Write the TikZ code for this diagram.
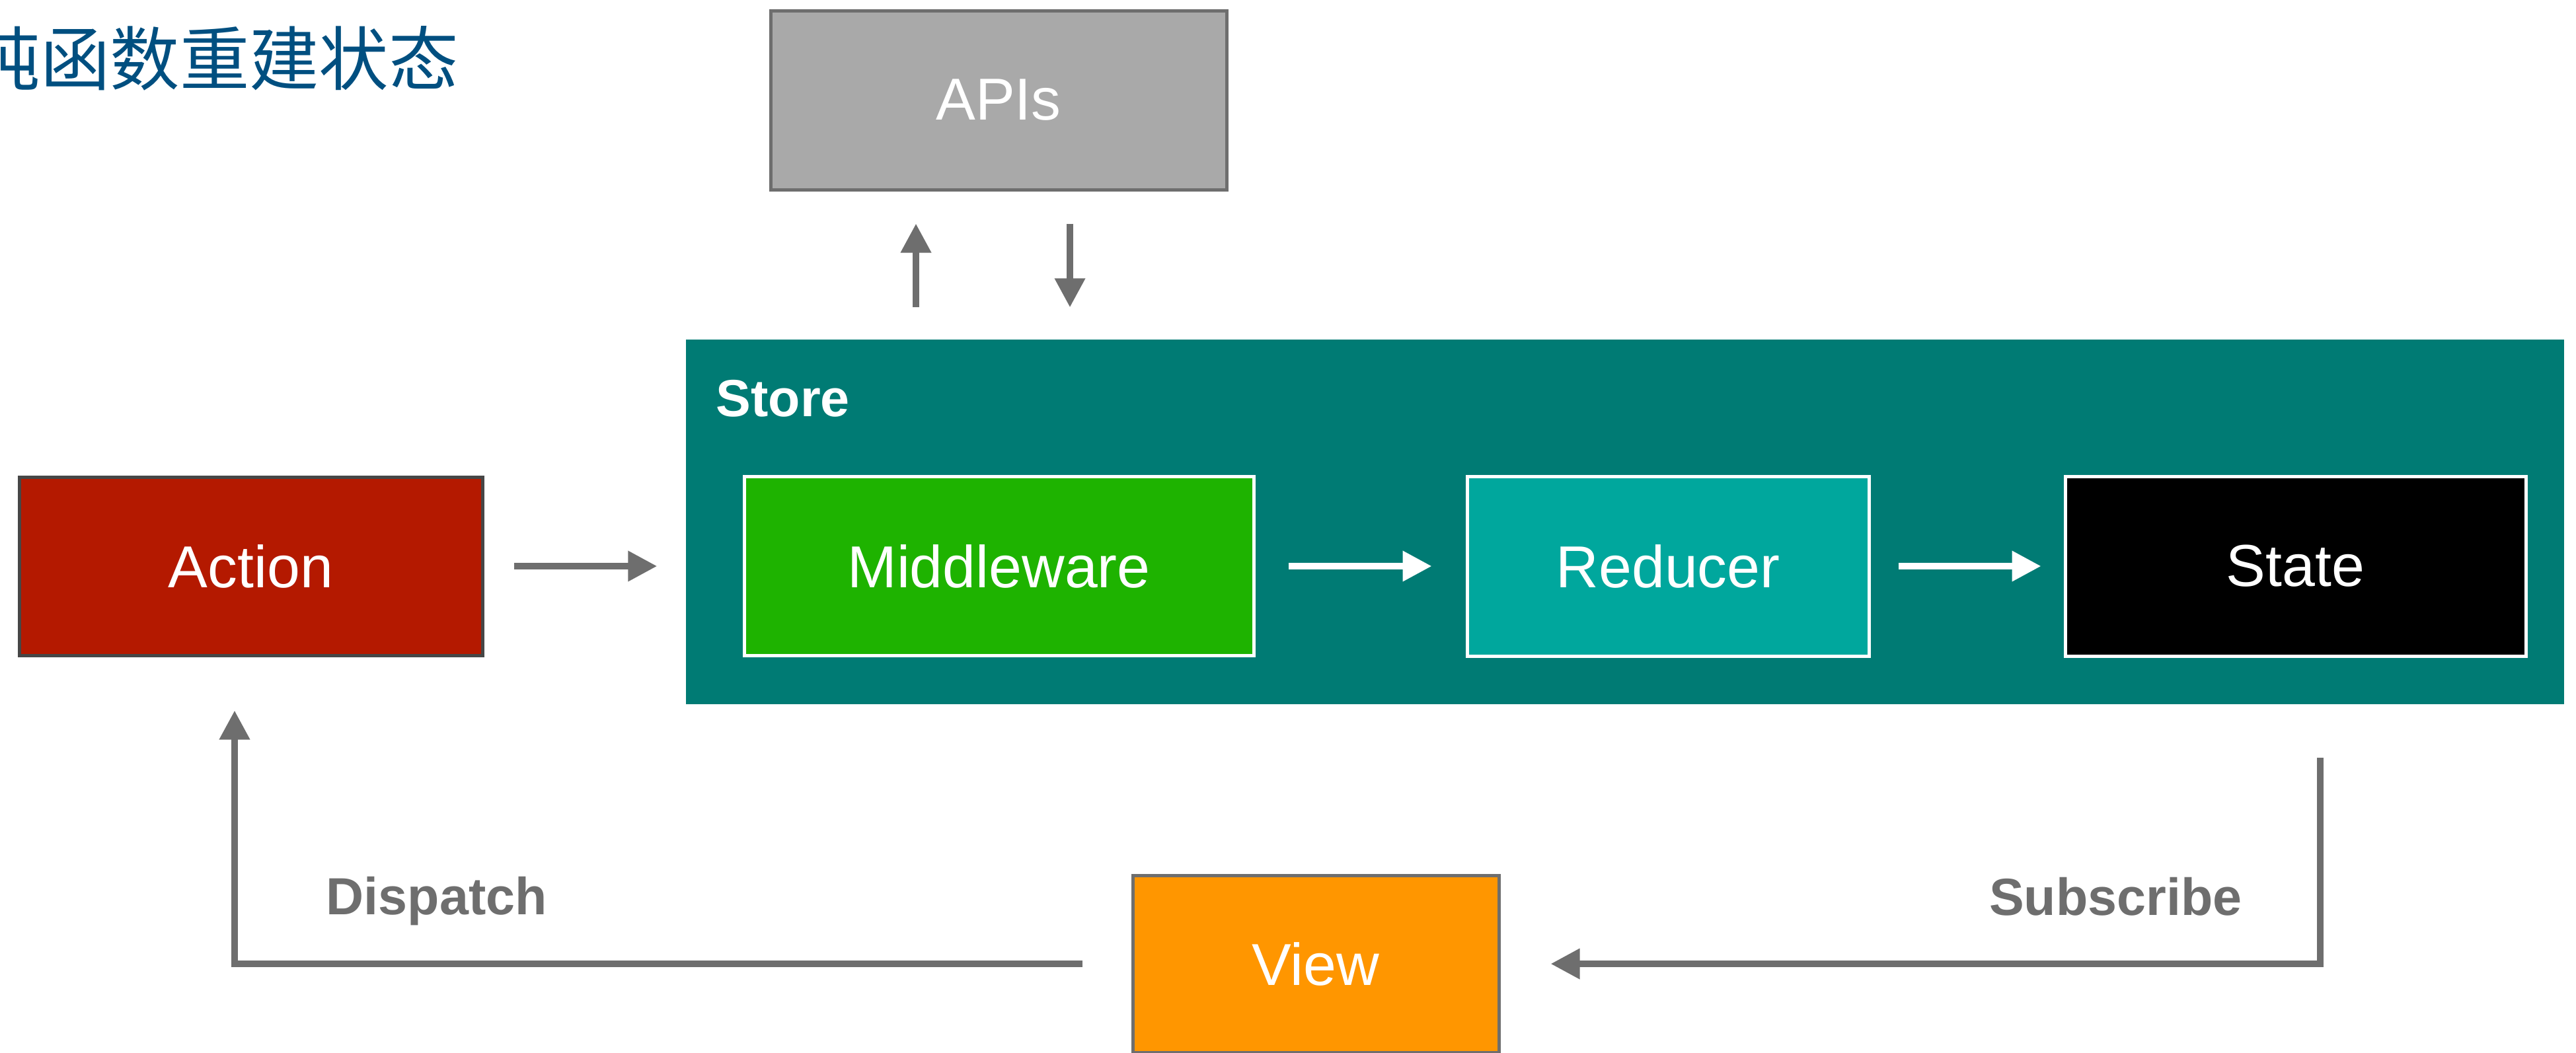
\documentclass[tikz,border=0pt]{standalone}
\usepackage{fontspec}
\setmainfont{Liberation Sans}
\newfontfamily\cjk{Noto Sans CJK SC}
\usetikzlibrary{positioning}
\usetikzlibrary{arrows.meta}

\definecolor{titleblue}{RGB}{0,79,128}
\definecolor{storeteal}{RGB}{0,123,116}
\definecolor{midgreen}{RGB}{30,179,0}
\definecolor{redteal}{RGB}{0,167,157}
\definecolor{actred}{RGB}{180,25,0}
\definecolor{vieworange}{RGB}{255,150,0}
\definecolor{apigray}{RGB}{169,169,169}
\definecolor{linegray}{RGB}{110,110,110}
\definecolor{actborder}{RGB}{70,70,70}

\begin{document}
\begin{tikzpicture}[
    blk/.style={rectangle,inner sep=0pt,line width=0.05cm,text=white,font=\fontsize{25.5}{30}\selectfont},
    apibox/.style={blk,minimum width=6.9cm,minimum height=2.71cm,fill=apigray,draw=linegray},
    actbox/.style={blk,minimum width=7.01cm,minimum height=2.7cm,fill=actred,draw=actborder},
    midbox/.style={blk,minimum width=7.71cm,minimum height=2.71cm,fill=midgreen,draw=white},
    redbox/.style={blk,minimum width=6.08cm,minimum height=2.72cm,fill=redteal,draw=white},
    statebox/.style={blk,minimum width=6.97cm,minimum height=2.72cm,fill=black,draw=white},
    viewbox/.style={blk,minimum width=5.54cm,minimum height=2.68cm,fill=vieworange,draw=linegray},
    storebox/.style={rectangle,inner sep=0pt,minimum width=28.42cm,minimum height=5.52cm,fill=storeteal},
    arr/.style={line width=0.1cm,draw=linegray,-{Triangle[length=0.44cm,width=0.44cm]}},
    warr/.style={arr,draw=white},
    lbl/.style={inner sep=0pt,text=linegray,font=\fontsize{22.5}{27}\selectfont\bfseries}
    ]
    \useasboundingbox (0,0) rectangle (38.98,-15.93);
    % title, cut at the left edge
    \node (title) [anchor=west,inner sep=0pt,text=titleblue,font=\cjk\fontsize{30}{36}\selectfont] at (-0.45,-0.88) {纯函数重建状态};
    \node (api) [apibox] at (15.11,-1.515) {APIs};
    % store with its three stages
    \node (store) [storebox] at (24.59,-7.90) {};
    \node (storelbl) [anchor=base west,inner sep=0pt,text=white,font=\fontsize{22.5}{27}\selectfont\bfseries] at (10.83,-6.30) {Store};
    \node (act) [actbox] at (3.795,-8.57) {Action};
    \node (mid) [midbox] at (15.115,-8.57) {Middleware};
    \node (red) [redbox,right=3.18cm of mid] {Reducer};
    \node (state) [statebox,right=2.92cm of red] {State};
    \node (view) [viewbox] at (19.91,-14.59) {View};
    \coordinate (upx) at (13.86,0);
    \coordinate (downx) at (16.19,0);
    \coordinate (subtop) at (35.11,-11.47);
    \coordinate (dispx) at (3.55,0);
    \draw[arr,shorten <=0.45cm,shorten >=0.43cm] (act.east) -- (act.east -| store.west);
    \draw[warr,shorten <=0.5cm,shorten >=0.51cm] (mid.east) -- (red.west);
    \draw[warr,shorten <=0.42cm,shorten >=0.34cm] (red.east) -- (state.west);
    \draw[arr,shorten <=0.48cm,shorten >=0.49cm] (upx |- store.north) -- (upx |- api.south);
    \draw[arr,shorten <=0.49cm,shorten >=0.48cm] (downx |- api.south) -- (downx |- store.north);
    \draw[arr,shorten >=0.76cm] (subtop) |- (view.east);
    \draw[arr,shorten <=0.74cm,shorten >=0.81cm] (view.west) -| (dispx |- act.south);
    \node (sublbl) [lbl,anchor=base east] at (33.93,-13.85) {Subscribe};
    \node (displbl) [lbl,anchor=base west] at (4.93,-13.84) {Dispatch};
  \end{tikzpicture}
\end{document}
